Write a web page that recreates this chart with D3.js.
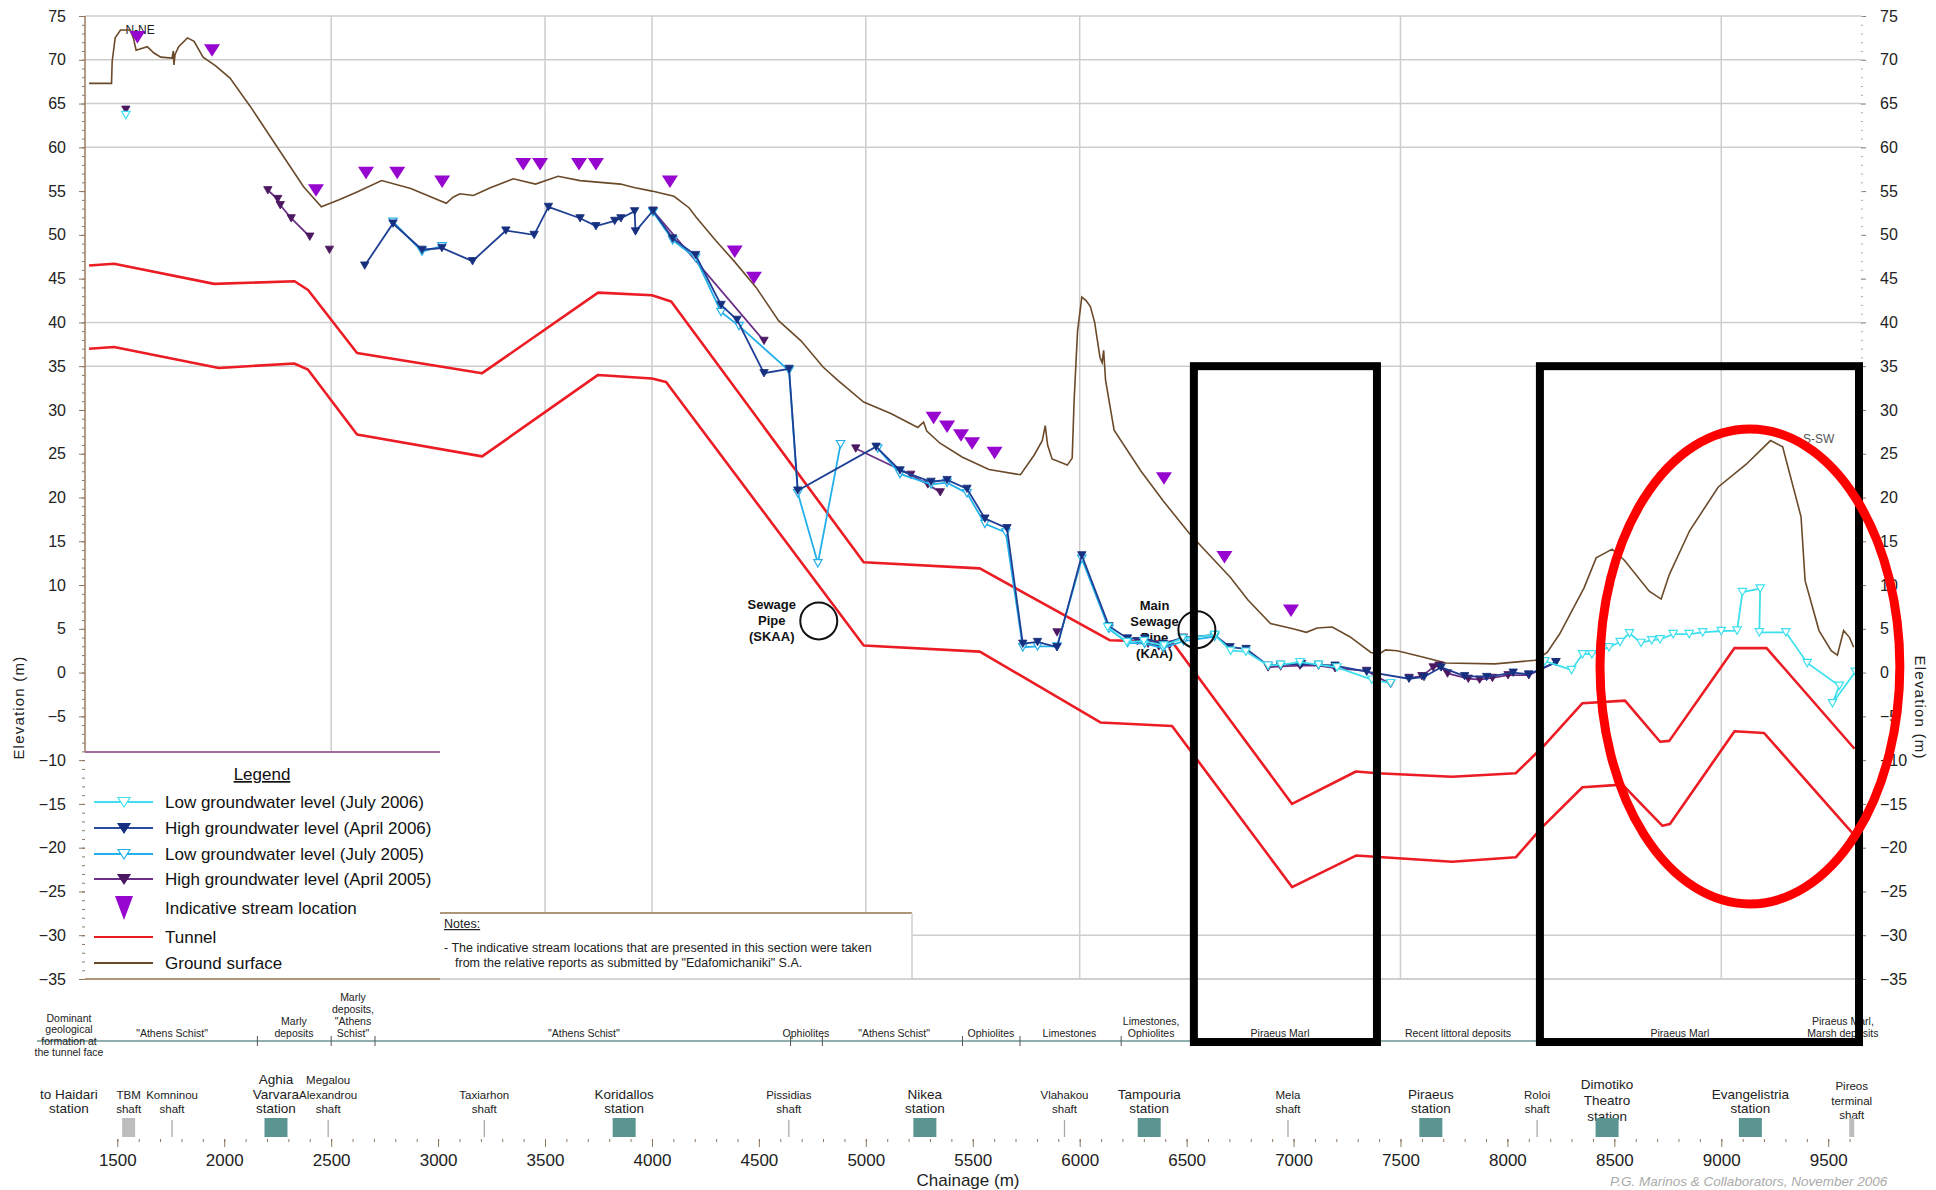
<!DOCTYPE html>
<html>
<head>
<meta charset="utf-8">
<script src="https://cdn.jsdelivr.net/npm/d3@7"></script>
<style>
    body {margin: 0; background: #fff;}
    svg {display: block; font-family: "Liberation Sans", Arial, sans-serif;}
</style>
</head>
<body>
<div id="chart"></div>
<script>
// chainage (m), elevation (m)
const groundSurface = [[1368, 67.3], [1473, 67.3], [1476, 69.8], [1490, 72.5], [1515, 73.4], [1560, 73.4], [1575, 72.5], [1588, 71.1],
    [1640, 71.5], [1670, 70.8], [1703, 70.3], [1756, 70.2], [1762, 71.0], [1765, 69.4], [1770, 70.6], [1787, 71.5], [1828, 72.5],
    [1859, 72.1], [1901, 70.3], [1960, 69.3], [2027, 67.9], [2121, 64.7], [2246, 60.1], [2371, 55.5], [2454, 53.2], [2537, 54.0],
    [2621, 54.9], [2736, 56.2], [2872, 55.3], [3038, 53.6], [3070, 54.3], [3102, 54.7], [3165, 54.5], [3247, 55.4], [3351, 56.4],
    [3456, 55.8], [3561, 56.7], [3664, 56.2], [3853, 55.8], [3916, 55.4], [4000, 55.0], [4103, 54.4], [4173, 53.1], [4207, 52.0],
    [4300, 49.3], [4384, 47.0], [4487, 44.0], [4592, 40.2], [4697, 37.9], [4800, 34.9], [4868, 33.4], [4990, 30.9], [5117, 29.6],
    [5243, 28.0], [5270, 28.6], [5285, 27.6], [5347, 26.2], [5452, 24.6], [5576, 23.2], [5723, 22.6], [5786, 24.8], [5825, 26.5],
    [5839, 28.2], [5850, 26.0], [5871, 24.4], [5942, 23.7], [5965, 24.5], [5974, 31.1], [5990, 39.0], [6010, 42.9], [6030, 42.5],
    [6050, 41.8], [6070, 40.0], [6095, 36.0], [6105, 35.4], [6112, 36.8], [6121, 33.4], [6161, 27.7], [6287, 23.0], [6391, 19.6],
    [6516, 15.8], [6600, 13.6], [6704, 10.9], [6787, 8.3], [6892, 5.6], [6997, 5.0], [7060, 4.6], [7110, 5.1], [7181, 5.2],
    [7263, 4.1], [7362, 2.3], [7400, 2.1], [7430, 2.6], [7484, 2.5], [7599, 1.8], [7713, 1.1], [7941, 1.0], [8130, 1.4], [8186, 2.3],
    [8244, 4.4], [8359, 9.7], [8415, 13.1], [8490, 14.1], [8548, 12.8], [8663, 9.3], [8719, 8.4], [8757, 11.2], [8852, 16.2],
    [8986, 21.2], [9117, 23.8], [9230, 26.5], [9287, 25.8], [9373, 17.8], [9392, 10.5], [9457, 4.8], [9514, 2.5], [9543, 2.0],
    [9572, 4.8], [9600, 4.0], [9619, 2.9]];

const tunnelTop = [[1368, 46.5], [1485, 46.7], [1953, 44.4], [2329, 44.7], [2392, 43.7], [2621, 36.5], [3206, 34.2], [3748, 43.4],
    [4000, 43.1], [4090, 42.4], [4990, 12.6], [5533, 11.9], [6140, 3.7], [6433, 3.5], [6993, -15.0], [7292, -11.3], [7392, -11.5],
    [7741, -11.9], [8039, -11.5], [8165, -8.5], [8351, -3.5], [8550, -3.2], [8714, -7.9], [8757, -7.8], [9062, 2.8], [9212, 2.8],
    [9623, -8.7]];

const tunnelBottom = [[1368, 37.0], [1485, 37.2], [1975, 34.8], [2327, 35.3], [2392, 34.6], [2621, 27.2], [3206, 24.7], [3748, 34.0],
    [4000, 33.6], [4066, 33.2], [4990, 3.1], [5533, 2.4], [6097, -5.7], [6432, -6.1], [6993, -24.5], [7292, -20.9], [7741, -21.6],
    [8039, -21.1], [8165, -17.6], [8351, -13.1], [8538, -12.8], [8725, -17.5], [8760, -17.3], [9062, -6.7], [9200, -6.9],
    [9623, -18.6]];

const lowJuly2006 = [
    [[1540, 63.7]],
    [[6131, 5.2], [6220, 3.5], [6300, 3.6], [6394, 3.1], [6480, 3.9], [6631, 4.3], [6706, 2.5], [6777, 2.4], [6881, 0.8],
        [6940, 0.9], [7030, 1.2], [7117, 0.9], [7203, 0.6], [7366, -0.8], [7454, -1.2]],
    [[8175, 1.3], [8300, 0.3], [8351, 2.1], [8395, 2.1], [8475, 2.9], [8527, 3.5], [8571, 4.5], [8625, 3.4], [8675, 3.7],
        [8714, 3.8], [8775, 4.4], [8850, 4.4], [8913, 4.6], [9000, 4.75], [9074, 4.8], [9099, 9.2], [9182, 9.6], [9178, 4.6],
        [9302, 4.6], [9402, 1.1], [9552, -1.5], [9520, -3.5], [9627, 0.1]]
];

const highApril2006 = [
    [[2657, 46.5], [2789, 51.3], [2925, 48.3], [3018, 48.5], [3161, 47.0], [3317, 50.5], [3449, 50.0], [3516, 53.2], [3664, 51.9],
        [3738, 51.0], [3826, 51.6], [3855, 51.9], [3919, 52.7], [3923, 50.4], [4005, 52.75], [4097, 49.6], [4204, 47.7],
        [4323, 42.0], [4398, 40.3], [4524, 34.2], [4641, 34.7], [4682, 20.8], [5048, 25.8], [5160, 23.1], [5305, 21.8],
        [5380, 22.0], [5473, 21.0], [5557, 17.6], [5660, 16.5], [5734, 3.3], [5803, 3.5], [5894, 2.9], [6010, 13.4], [6137, 5.3],
        [6224, 3.9], [6304, 3.9], [6390, 3.3], [6485, 4.0], [6631, 4.3], [6703, 2.9], [6778, 2.7], [6881, 0.8], [6938, 0.9],
        [7038, 1.0], [7117, 0.9], [7194, 0.8], [7342, 0.1], [7540, -0.7], [7610, -0.5], [7690, 0.6], [7800, -0.4], [7903, -0.5],
        [8027, 0.0], [8100, -0.2], [8227, 1.2]]
];

const lowJuly2005 = [
    [[2789, 51.5], [2925, 48.1], [3018, 48.7]],
    [[4005, 52.6], [4097, 49.4], [4204, 47.4], [4323, 41.2], [4407, 39.6], [4641, 34.5], [4682, 20.5], [4776, 12.5], [4882, 26.1]],
    [[5056, 25.6], [5160, 22.7], [5305, 21.5], [5380, 21.7], [5473, 20.5], [5557, 17.0], [5655, 16.0], [5734, 2.9], [5803, 3.0],
        [5894, 3.0], [6010, 13.0], [6137, 5.0], [6224, 3.4], [6304, 3.3], [6390, 2.8], [6485, 3.6], [6631, 4.1]]
];

const highApril2005 = [
    [[1540, 64.3]],
    [[2204, 55.1], [2250, 54.1], [2262, 53.4], [2313, 51.9], [2400, 49.8]],
    [[2492, 48.3]],
    [[4005, 52.75], [4524, 37.9]],
    [[4953, 25.6], [5210, 22.6], [5290, 21.5], [5348, 20.6]],
    [[5894, 4.6]],
    [[6270, 3.6], [6320, 3.3], [6370, 3.0], [6420, 3.1]],
    [[6881, 0.6], [6940, 0.7], [7030, 0.8], [7117, 0.8], [7194, 0.5], [7342, 0.2], [7454, -1.3]],
    [[7540, -0.6], [7600, -0.4], [7653, 0.6], [7680, 0.8], [7720, -0.1], [7817, -0.7], [7870, -0.8], [7930, -0.6], [8003, -0.3],
        [8100, -0.3], [8227, 1.2]]
];

const streamLocations = [[1594, 72.6], [1943, 71.1], [2429, 55.1], [2663, 57.1], [2809, 57.1], [3019, 56.1], [3398, 58.1],
    [3477, 58.1], [3659, 58.1], [3738, 58.1], [4084, 56.1], [4387, 48.1], [4477, 45.1], [5317, 29.1], [5380, 28.1], [5445, 27.1],
    [5497, 26.2], [5602, 25.1], [6394, 22.2], [6677, 13.2], [6988, 7.1]];

const elevationTicks = d3.range(-35, 76, 5);
const chainageTicks = d3.range(1500, 9501, 500);
const gridElevations = [75, 70, 65, 60, 40, 35, -30, -35];
const gridChainages = [2500, 3500, 4000, 5000, 6000, 7500, 9000];

const geoNames = [["\"Athens Schist\""], ["Marly", "deposits"], ["Marly", "deposits,", "\"Athens", "Schist\""], ["\"Athens Schist\""],
    ["Ophiolites"], ["\"Athens Schist\""], ["Ophiolites"], ["Limestones"], ["Limestones,", "Ophiolites"], ["Piraeus Marl"],
    ["Recent littoral deposits"], ["Piraeus Marl"], ["Piraeus Marl,", "Marsh deposits"]];
const geoChainages = [1756, 2326, 2602, 3682, 4720, 5132, 5585, 5952, 6334, 6937, 7769, 8807, 9569];
const geoBreaks = [2155, 2500, 2705, 4648, 4797, 5452, 5721, 6194];

const stationNames = [["to Haidari", "station"], ["TBM", "shaft"], ["Komninou", "shaft"], ["Aghia", "Varvara", "station"],
    ["Megalou", "Alexandrou", "shaft"], ["Taxiarhon", "shaft"], ["Koridallos", "station"], ["Pissidias", "shaft"],
    ["Nikea", "station"], ["Vlahakou", "shaft"], ["Tampouria", "station"], ["Mela", "shaft"], ["Piraeus", "station"],
    ["Roloi", "shaft"], ["Dimotiko", "Theatro", "station"], ["Evangelistria", "station"], ["Pireos", "terminal", "shaft"]];
const stationChainages = [1274, 1553, 1756, 2242, 2486, 3216, 3870, 4640, 5276, 5929, 6325, 6974, 7642, 8139, 8466, 9136, 9610];
const stationKinds = ["origin", "tbm", "shaft", "station", "shaft", "shaft", "station", "shaft", "station", "shaft", "station",
    "shaft", "station", "shaft", "station", "station", "terminal"];

const margin = {top: 16, left: 85}
    , width = 1776
    , height = 963;

const x = d3.scaleLinear().domain([1500, 9500]).range([32.3, 1743.2]);
const y = d3.scaleLinear().domain([-35, 75]).range([height, 0]);

const svg = d3.select("#chart").append("svg")
    .attr("width", 1936)
    .attr("height", 1190);
svg.append("rect").attr("width", 1936).attr("height", 1190).attr("fill", "#fff");

const g = svg.append("g").attr("transform", `translate(${margin.left},${margin.top})`);

// grid
g.selectAll(".hgrid").data(gridElevations).enter().append("line")
    .attr("class", "hgrid")
    .attr("x1", 0).attr("x2", width)
    .attr("y1", d => y(d)).attr("y2", d => y(d))
    .attr("stroke", "#cdcdcd").attr("stroke-width", 1.5);
g.selectAll(".vgrid").data(gridChainages).enter().append("line")
    .attr("class", "vgrid")
    .attr("x1", d => x(d)).attr("x2", d => x(d))
    .attr("y1", y(75)).attr("y2", y(-35))
    .attr("stroke", "#cdcdcd").attr("stroke-width", 1.5);

// elevation axes
const yAxisL = g.append("g").call(d3.axisLeft(y).tickValues(elevationTicks).tickSize(6).tickPadding(13));
const yMinorL = g.append("g").call(d3.axisLeft(y).tickValues(d3.range(-35, 76, 1)).tickSize(3).tickFormat(""));
const yAxisR = g.append("g").attr("transform", `translate(${width},0)`)
    .call(d3.axisRight(y).tickValues(elevationTicks).tickSize(5).tickPadding(14));
const yMinorR = g.append("g").attr("transform", `translate(${width},0)`)
    .call(d3.axisRight(y).tickValues(d3.range(-35, 76, 1)).tickSize(2).tickFormat(""));
[yAxisL, yMinorL, yAxisR, yMinorR].forEach(a => {
    a.select(".domain").remove();
    a.selectAll("line").attr("stroke", "#8c7761");
    a.selectAll("text").attr("font-size", 16).attr("fill", "#222").attr("font-family", "Liberation Sans, Arial, sans-serif");
});
yMinorR.selectAll("line").attr("stroke", "#aaa");
g.append("line").attr("x1", 0).attr("x2", 0).attr("y1", y(75)).attr("y2", 736)
    .attr("stroke", "#9a7d60").attr("stroke-width", 1.5);

g.append("text")
    .attr("transform", `translate(-61,${y(-4)}) rotate(-90)`)
    .attr("text-anchor", "middle").attr("font-size", 15).attr("letter-spacing", 1.2).attr("fill", "#222")
    .text("Elevation (m)");
g.append("text")
    .attr("transform", `translate(${width + 54},${y(-4)}) rotate(90)`)
    .attr("text-anchor", "middle").attr("font-size", 15).attr("letter-spacing", 1.2).attr("fill", "#222")
    .text("Elevation (m)");

// legend and notes boxes
g.append("rect").attr("x", 0).attr("y", 736).attr("width", 355).attr("height", height - 736).attr("fill", "#fff");
g.append("line").attr("x1", 0).attr("x2", 355).attr("y1", 736).attr("y2", 736).attr("stroke", "#a8689f").attr("stroke-width", 2);
g.append("line").attr("x1", 0).attr("x2", 355).attr("y1", height).attr("y2", height).attr("stroke", "#ad9678").attr("stroke-width", 2);
g.append("rect").attr("x", 355).attr("y", 897).attr("width", 472).attr("height", height - 897).attr("fill", "#fff");
g.append("line").attr("x1", 355).attr("x2", 827).attr("y1", 897).attr("y2", 897).attr("stroke", "#ad9678").attr("stroke-width", 2);
g.append("line").attr("x1", 827).attr("x2", 827).attr("y1", 897).attr("y2", height).attr("stroke", "#cfcfcf").attr("stroke-width", 1.5);
g.append("line").attr("x1", 355).attr("x2", width).attr("y1", height).attr("y2", height).attr("stroke", "#cdcdcd").attr("stroke-width", 1.5);

g.append("text").attr("x", 359).attr("y", 912).attr("font-size", 12.5).attr("fill", "#222")
    .attr("text-decoration", "underline").text("Notes:");
g.append("text").attr("x", 359).attr("y", 936).attr("font-size", 12.5).attr("fill", "#222")
    .text("-  The indicative stream locations that are presented in this section were taken");
g.append("text").attr("x", 370).attr("y", 951).attr("font-size", 12.5).attr("fill", "#222")
    .text("from the relative reports as submitted by \"Edafomichaniki\" S.A.");

// annotations under the lines
const pipeNotes = [
    {c: 4780, e: 5.9, tx: 4560, lines: ["Sewage", "Pipe", "(SKAA)"]},
    {c: 6548, e: 4.9, tx: 6350, lines: ["Main", "Sewage", "Pipe", "(KAA)"]}
];
pipeNotes.forEach(p => {
    const t = g.append("text").attr("text-anchor", "middle").attr("font-size", 13).attr("font-weight", "bold").attr("fill", "#111");
    p.lines.forEach((l, i) => t.append("tspan").attr("x", x(p.tx)).attr("y", y(p.e) - (p.lines.length - 1) * 8 + i * 16 + 4).text(l));
});

g.append("text").attr("x", x(1538)).attr("y", y(73.5) + 5).attr("font-size", 12).attr("fill", "#222").text("N-NE");
g.append("text").attr("x", x(9382)).attr("y", y(26.8) + 5).attr("font-size", 12).attr("fill", "#555").text("S-SW");

// series
const line = d3.line().x(d => x(d[0])).y(d => y(d[1]));

[tunnelTop, tunnelBottom].forEach(t => {
    g.append("path").datum(t).attr("d", line).attr("fill", "none").attr("stroke", "#ec1c24")
        .attr("stroke-width", 2.6).attr("stroke-linejoin", "round");
});
g.append("path").datum(groundSurface).attr("d", line).attr("fill", "none").attr("stroke", "#6b4a2a").attr("stroke-width", 1.6);

const smallTri = "M-4.2,-3.6L4.2,-3.6L0,3.8Z";
const series = [
    {segs: highApril2005, stroke: "#6a2f86", mark: "#4b1760", open: false},
    {segs: lowJuly2005, stroke: "#22b0ea", mark: "#22b0ea", open: true},
    {segs: highApril2006, stroke: "#1f3f95", mark: "#16307f", open: false},
    {segs: lowJuly2006, stroke: "#3fe0ee", mark: "#3fe0ee", open: true}
];
series.forEach(s => {
    const sg = g.append("g");
    sg.selectAll("path.seg").data(s.segs).enter().append("path")
        .attr("class", "seg").attr("d", line).attr("fill", "none")
        .attr("stroke", s.stroke).attr("stroke-width", 1.8);
    sg.selectAll("path.mk").data(s.segs.flat()).enter().append("path")
        .attr("class", "mk")
        .attr("transform", d => `translate(${x(d[0])},${y(d[1])})`)
        .attr("d", smallTri)
        .attr("fill", s.open ? "#fff" : s.mark)
        .attr("stroke", s.mark).attr("stroke-width", s.open ? 1.2 : 0.8);
});

g.selectAll(".stream").data(streamLocations).enter().append("path")
    .attr("class", "stream")
    .attr("transform", d => `translate(${x(d[0])},${y(d[1])})`)
    .attr("d", "M-8,-6L8,-6L0,6.5Z")
    .attr("fill", "#9606cf");

// pipe circles
pipeNotes.forEach(p => {
    g.append("circle").attr("cx", x(p.c)).attr("cy", y(p.e)).attr("r", 18.5)
        .attr("fill", "none").attr("stroke", "#111").attr("stroke-width", 2);
});

// legend
const legendItems = [
    {label: "Low groundwater level (July 2006)", stroke: "#3fe0ee", mark: "tri", fill: "#fff", mc: "#3fe0ee"},
    {label: "High groundwater level (April 2006)", stroke: "#2a4a9c", mark: "tri", fill: "#16307f", mc: "#16307f"},
    {label: "Low groundwater level (July 2005)", stroke: "#22b0ea", mark: "tri", fill: "#fff", mc: "#22b0ea"},
    {label: "High groundwater level (April 2005)", stroke: "#6a2f86", mark: "tri", fill: "#4b1760", mc: "#4b1760"},
    {label: "Indicative stream location", stroke: null, mark: "big", fill: "#9606cf", mc: "#9606cf"},
    {label: "Tunnel", stroke: "#ec1c24"},
    {label: "Ground surface", stroke: "#6b4a2a"}
];
const legendY = [786, 812, 838, 863, 892, 921, 947];
g.append("text").attr("x", 177).attr("y", 764).attr("text-anchor", "middle").attr("font-size", 17)
    .attr("text-decoration", "underline").attr("fill", "#111").text("Legend");
const lg = g.selectAll(".lg").data(legendItems).enter().append("g")
    .attr("class", "lg")
    .attr("transform", (d, i) => `translate(0,${legendY[i]})`);
lg.filter(d => d.stroke).append("line")
    .attr("x1", 9).attr("x2", 68).attr("stroke", d => d.stroke).attr("stroke-width", 2);
lg.filter(d => d.mark === "tri").append("path")
    .attr("transform", "translate(39,0)")
    .attr("d", "M-6,-4.5L6,-4.5L0,5Z")
    .attr("fill", d => d.fill).attr("stroke", d => d.mc).attr("stroke-width", 1.2);
lg.filter(d => d.mark === "big").append("path")
    .attr("transform", "translate(39,0)")
    .attr("d", "M-9,-12L9,-12L0,12Z")
    .attr("fill", d => d.fill);
lg.append("text").attr("x", 80).attr("y", 6).attr("font-size", 17).attr("fill", "#111").text(d => d.label);

// bottom chainage axis
const xAxisG = g.append("g").attr("transform", "translate(0,1123)")
    .call(d3.axisBottom(x).tickValues(chainageTicks).tickSize(8).tickPadding(7).tickFormat(d3.format("d")));
const xMinorG = g.append("g").attr("transform", "translate(0,1123)")
    .call(d3.axisBottom(x).tickValues(d3.range(1500, 9601, 100)).tickSize(3).tickFormat(""));
[xAxisG, xMinorG].forEach(a => {
    a.select(".domain").remove();
    a.selectAll("line").attr("stroke", "#8c7761");
});
xAxisG.selectAll("text").attr("font-size", 17).attr("fill", "#222").attr("font-family", "Liberation Sans, Arial, sans-serif");
g.append("text").attr("x", 883).attr("y", 1170).attr("text-anchor", "middle").attr("font-size", 17).attr("fill", "#222")
    .text("Chainage (m)");

// geological formations row
g.append("line").attr("x1", -48).attr("x2", 1771).attr("y1", 1025).attr("y2", 1025)
    .attr("stroke", "#8fb0ae").attr("stroke-width", 2.2);
g.selectAll(".gb").data(geoBreaks).enter().append("line")
    .attr("class", "gb")
    .attr("x1", d => x(d)).attr("x2", d => x(d)).attr("y1", 1020).attr("y2", 1030)
    .attr("stroke", "#555").attr("stroke-width", 1);
const geoHead = g.append("text").attr("text-anchor", "middle").attr("font-size", 10.5).attr("fill", "#222");
["Dominant", "geological", "formation at", "the tunnel face"].forEach((l, i) =>
    geoHead.append("tspan").attr("x", x(1274)).attr("y", 1006 + i * 11.4).text(l));
geoNames.forEach((lines, k) => {
    const t = g.append("text").attr("text-anchor", "middle").attr("font-size", 10.5).attr("fill", "#222");
    lines.forEach((l, i) => t.append("tspan").attr("x", x(geoChainages[k]))
        .attr("y", 1021 - (lines.length - 1 - i) * 12).text(l));
});

// stations and shafts
const stationBase = {origin: 1097, tbm: 1097, shaft: 1097, station: 1097, terminal: 1103};
stationNames.forEach((lines, k) => {
    const kind = stationKinds[k];
    const cx = x(stationChainages[k]);
    const big = kind === "station" || kind === "origin";
    const step = lines[0] === "Dimotiko" ? 16 : 14.5;
    const base = lines[0] === "Dimotiko" ? 1105 : stationBase[kind];
    const t = g.append("text").attr("text-anchor", "middle").attr("font-size", big ? 13.5 : 11.5).attr("fill", "#222");
    lines.forEach((l, i) => t.append("tspan").attr("x", cx).attr("y", base - (lines.length - 1 - i) * step).text(l));
    if (kind === "station") {
        g.append("rect").attr("x", cx - 11.5).attr("y", 1102).attr("width", 23).attr("height", 19).attr("fill", "#5b9591");
    } else if (kind === "tbm") {
        g.append("rect").attr("x", cx - 6.5).attr("y", 1102).attr("width", 13).attr("height", 19).attr("fill", "#bdbdbd");
    } else if (kind === "terminal") {
        g.append("rect").attr("x", cx - 2.5).attr("y", 1102).attr("width", 5).attr("height", 19).attr("fill", "#bdbdbd");
    } else if (kind === "shaft") {
        g.append("line").attr("x1", cx).attr("x2", cx).attr("y1", 1104).attr("y2", 1121).attr("stroke", "#aaa").attr("stroke-width", 1.3);
    }
});

// highlighted zones
const zones = [[6534, 7390], [8152, 9644]];
g.selectAll(".zone").data(zones).enter().append("rect")
    .attr("class", "zone")
    .attr("x", d => x(d[0])).attr("width", d => x(d[1]) - x(d[0]))
    .attr("y", y(35)).attr("height", y(-42.2) - y(35))
    .attr("fill", "none").attr("stroke", "#000").attr("stroke-width", 8);
g.append("ellipse")
    .attr("cx", x(9134)).attr("cy", y(0.7))
    .attr("rx", x(9134 + 701) - x(9134)).attr("ry", y(0.7 - 27.13) - y(0.7))
    .attr("fill", "none").attr("stroke", "#ff0000").attr("stroke-width", 9);

svg.append("text").attr("x", 1610).attr("y", 1186).attr("font-size", 13.5).attr("font-style", "italic").attr("fill", "#aaa")
    .text("P.G. Marinos & Collaborators, November 2006");
</script>
</body>
</html>
